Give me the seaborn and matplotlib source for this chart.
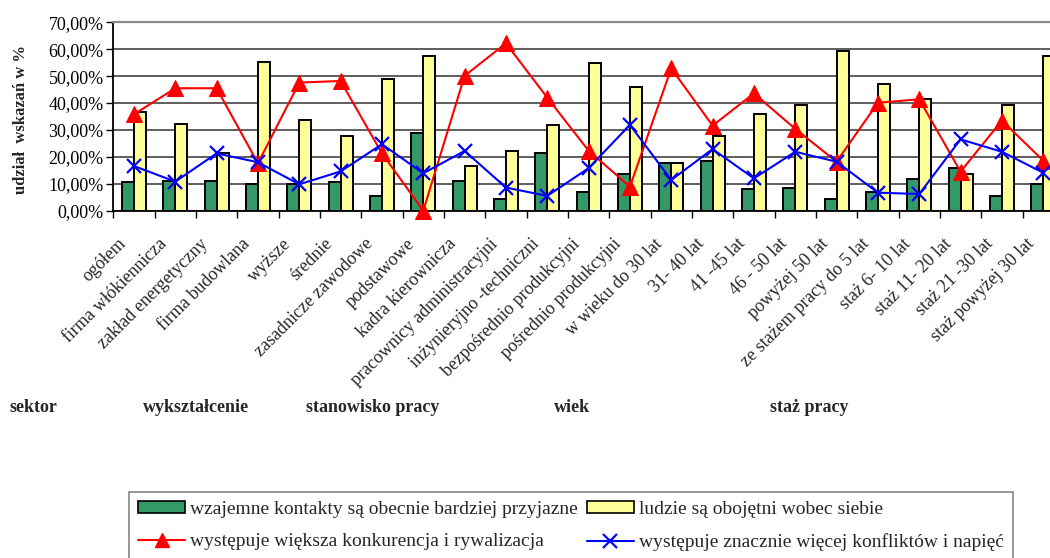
import numpy as np
import pandas as pd
import matplotlib
matplotlib.use("Agg")
import matplotlib.pyplot as plt
import seaborn as sns
from matplotlib.lines import Line2D
from matplotlib.patches import Patch
from matplotlib.ticker import FixedLocator, FuncFormatter
from matplotlib.transforms import ScaledTranslation

# --- data (udział wskazań, %) ---
kategorie = [
    "ogółem", "firma włókiennicza", "zakład energetyczny", "firma budowlana",
    "wyższe", "średnie", "zasadnicze zawodowe", "podstawowe",
    "kadra kierownicza", "pracownicy administracyjni", "inżynieryjno -techniczni",
    "bezpośrednio produkcyjni", "pośrednio produkcyjni",
    "w wieku do 30 lat", "31- 40 lat", "41 -45 lat", "46 - 50 lat", "powyżej 50 lat",
    "ze stażem pracy do 5 lat", "staż 6- 10 lat", "staż 11- 20 lat", "staż 21 -30 lat",
    "staż powyżej 30 lat",
]
kontakty_przyjazne = [10.5, 11.0, 11.2, 9.8, 9.8, 10.5, 5.5, 28.8, 11.2, 4.3, 21.4, 6.8,
                      13.5, 17.7, 18.4, 8.1, 8.6, 4.3, 6.8, 11.7, 16.0, 5.5, 9.8]
ludzie_obojetni = [36.7, 32.3, 21.4, 55.2, 33.6, 27.6, 49.0, 57.4, 16.7, 22.1, 31.7, 55.0,
                   45.9, 17.7, 27.6, 36.1, 39.2, 59.2, 47.0, 41.5, 13.5, 39.2, 57.4]
konkurencja = [35.8, 45.5, 45.5, 17.6, 47.6, 48.2, 21.3, 0.0, 50.1, 62.2, 42.0, 22.3,
               8.9, 52.9, 31.6, 43.6, 30.4, 18.2, 40.1, 41.4, 14.5, 33.5, 18.6]
konflikty = [16.6, 10.8, 21.3, 18.0, 9.8, 14.6, 24.7, 13.9, 22.2, 8.6, 5.5, 15.8,
             31.9, 11.4, 22.9, 12.0, 21.9, 18.2, 6.7, 6.2, 26.5, 21.9, 14.1]

serie = [
    "wzajemne kontakty są obecnie bardziej przyjazne",
    "ludzie są obojętni wobec siebie",
    "występuje większa konkurencja i rywalizacja",
    "występuje znacznie więcej konfliktów i napięć",
]
grupy = ["sektor", "wykształcenie", "stanowisko pracy", "wiek", "staż pracy"]

# --- style ---
sns.set_style("ticks")
plt.rcParams["font.family"] = ["Liberation Serif", "DejaVu Serif"]

ZIELONY = "#339966"
ZOLTY = "#FFFF99"
CZERWONY = "#FF0000"
NIEBIESKI = "#0000FF"

W, H = 1050, 558
fig = plt.figure(figsize=(W / 100, H / 100), dpi=100)
n = len(kategorie)
cat_w = 41.33
ax = fig.add_axes([113.3 / W, 1 - 210.7 / H, n * cat_w / W, 188.4 / H])

df = pd.DataFrame({
    "kategoria": kategorie * 2,
    "udział": kontakty_przyjazne + ludzie_obojetni,
    "seria": [serie[0]] * n + [serie[1]] * n,
})
sns.barplot(data=df, x="kategoria", y="udział", hue="seria",
            palette=[ZIELONY, ZOLTY], saturation=1, width=0.58,
            edgecolor="black", linewidth=1.4, legend=False, ax=ax, zorder=2)

x = np.arange(n)
sns.lineplot(x=x, y=konkurencja, color=CZERWONY, linewidth=1.5, marker="^",
             markersize=11, markeredgecolor=CZERWONY, ax=ax, zorder=4, clip_on=False)
sns.lineplot(x=x, y=konflikty, color=NIEBIESKI, linewidth=1.5, marker="x",
             markersize=10, markeredgewidth=1.6, markeredgecolor=NIEBIESKI,
             ax=ax, zorder=5, clip_on=False)

# --- axes ---
ax.set_xlim(-0.5, n - 0.5)
ax.set_ylim(0, 70)
ax.set_xlabel("")
ax.set_ylabel("")
ax.set_axisbelow(True)

ax.yaxis.set_major_locator(FixedLocator(np.arange(0, 71, 10)))
ax.yaxis.set_major_formatter(FuncFormatter(lambda v, p: f"{v:.2f}%".replace(".", ",")))
ax.yaxis.grid(True, color="#333333", linewidth=1.1)
ax.tick_params(axis="y", length=5, width=1, direction="out", labelsize=13, pad=2,
               colors="black")

ax.set_xticks(x)
ax.set_xticklabels(kategorie)
ax.xaxis.set_minor_locator(FixedLocator(np.arange(-0.5, n, 1)))
ax.tick_params(axis="x", which="major", length=0, pad=22, labelsize=13)
ax.tick_params(axis="x", which="minor", length=5, width=1, direction="out", color="black")
shift = ScaledTranslation(-11 / 100, 0, fig.dpi_scale_trans)
for lab in ax.get_xticklabels():
    lab.set_rotation(45)
    lab.set_ha("right")
    lab.set_va("center")
    lab.set_rotation_mode("anchor")
    lab.set_transform(lab.get_transform() + shift)

for side in ("left", "bottom"):
    ax.spines[side].set_color("black")
    ax.spines[side].set_linewidth(1.3)
ax.spines["right"].set_visible(False)
ax.spines["top"].set_color("#8a8a8a")
ax.spines["top"].set_linewidth(1.6)

# --- labels ---
fig.text(21 / W, 1 - 119 / H, "udział  wskazań w %", rotation=90, fontsize=12,
         fontweight="bold", ha="center", va="center")
for nazwa, gx in zip(grupy, [9, 143, 306, 554, 770]):
    fig.text(gx / W, 1 - 408 / H, nazwa, fontsize=13, fontweight="bold",
             ha="left", va="center")

# --- legend ---
uchwyty = [
    Patch(facecolor=ZIELONY, edgecolor="black", linewidth=1.2),
    Line2D([], [], color=CZERWONY, linewidth=1.5, marker="^", markersize=10),
    Patch(facecolor=ZOLTY, edgecolor="black", linewidth=1.2),
    Line2D([], [], color=NIEBIESKI, linewidth=1.5, marker="x", markersize=10,
           markeredgewidth=1.6),
]
etykiety = [serie[0], serie[2], serie[1], serie[3]]
leg = fig.legend(uchwyty, etykiety, ncol=2, loc="upper left",
                 bbox_to_anchor=(129.3 / W, 1 - 492 / H), fontsize=14,
                 frameon=True, fancybox=False, edgecolor="#666666",
                 handlelength=2.42, handleheight=0.6, handletextpad=0.26,
                 columnspacing=0.45, labelspacing=0.8, borderpad=0.45,
                 borderaxespad=0)
leg.get_frame().set_linewidth(1.2)

fig.savefig("out.png", dpi=100)
